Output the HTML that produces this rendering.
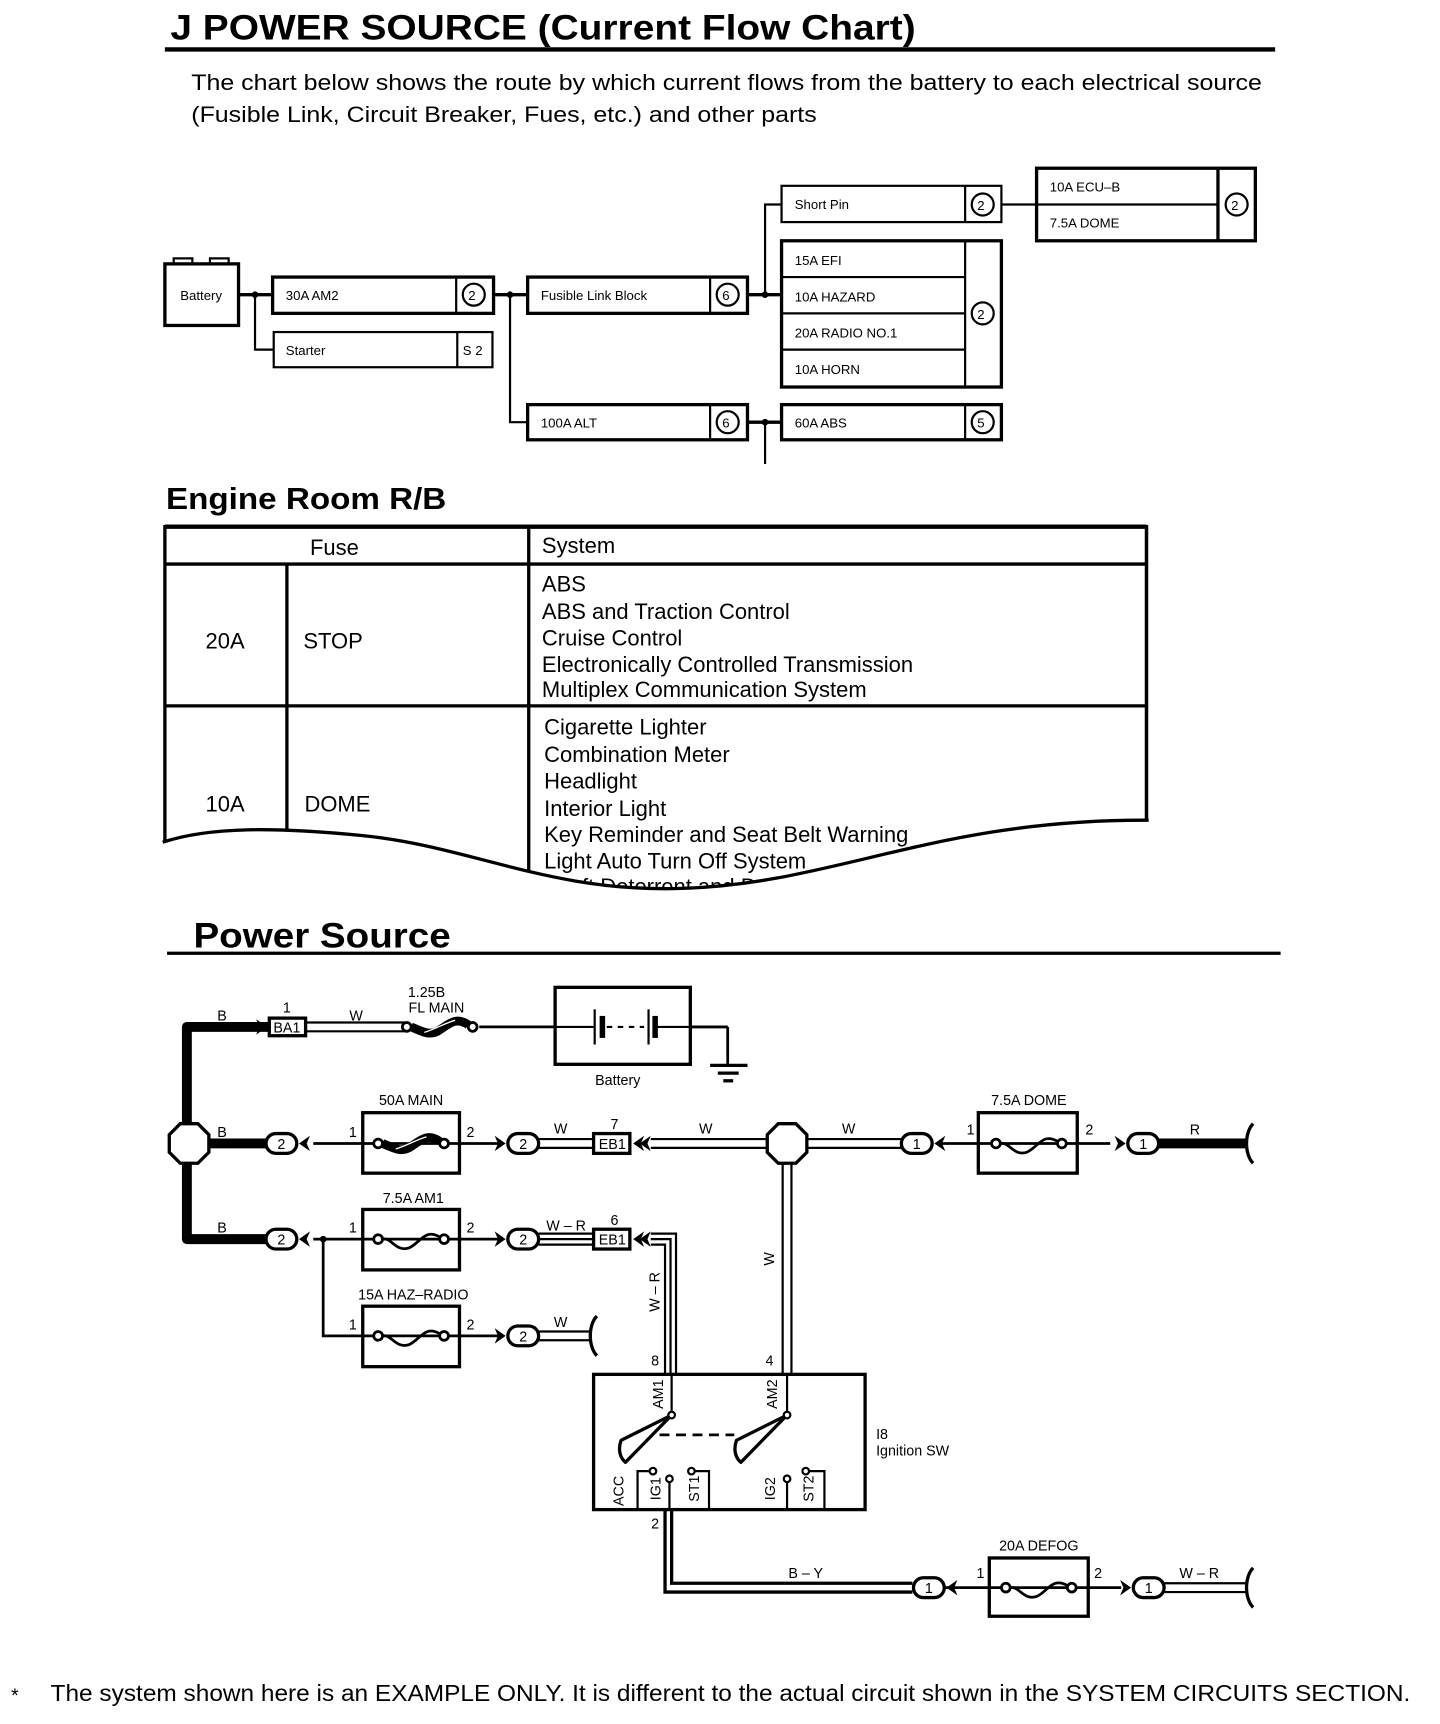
<!DOCTYPE html>
<html><head><meta charset="utf-8"><style>
html,body{margin:0;padding:0;background:#fff;}
svg{display:block;font-family:"Liberation Sans",sans-serif;}
</style></head><body>
<svg width="1440" height="1724" viewBox="0 0 1310 1568" preserveAspectRatio="none" xmlns="http://www.w3.org/2000/svg">
<defs>
<g id="fuse"><circle cx="-30" cy="0" r="4" fill="#fff" stroke="#000" stroke-width="2.5"/><circle cx="30" cy="0" r="4" fill="#fff" stroke="#000" stroke-width="2.5"/><path d="M-26 0 C-18 -2 -14 12 -2 8 C8 4 12 -10 26 -2" fill="none" stroke="#000" stroke-width="2.5"/></g>
<g id="fuseB"><circle cx="-30" cy="0" r="4" fill="#fff" stroke="#000" stroke-width="2.5"/><circle cx="30" cy="0" r="4" fill="#fff" stroke="#000" stroke-width="2.5"/><path d="M-26 0 C-16 4 -10 8 -2 4 C8 -2 14 -10 26 -2" fill="none" stroke="#000" stroke-width="8"/><path d="M-14 5 C-4 2 6 -4 14 -6" fill="none" stroke="#fff" stroke-width="1.2"/></g>
<g id="conn"><rect x="-14" y="-9" width="28" height="18" rx="9" fill="#fff" stroke="#000" stroke-width="3"/></g>
<path id="chL" d="M0 0 L10 -7 L7 0 L10 7 Z"/>
<path id="chR" d="M0 0 L-10 -7 L-7 0 L-10 7 Z"/>
</defs>
<line x1="150" y1="45" x2="1160" y2="45" stroke="#000" stroke-width="4"/>
<text x="155" y="36" font-size="32" font-weight="bold" textLength="678" lengthAdjust="spacingAndGlyphs">J POWER SOURCE (Current Flow Chart)</text>
<text x="174" y="82" font-size="20" textLength="974" lengthAdjust="spacingAndGlyphs">The chart below shows the route by which current flows from the battery to each electrical source</text>
<text x="174" y="111" font-size="20" textLength="569" lengthAdjust="spacingAndGlyphs">(Fusible Link, Circuit Breaker, Fues, etc.) and other parts</text>

<g fill="none" stroke="#000" stroke-width="2">
<rect x="150" y="240" width="67" height="56" stroke-width="3"/>
<rect x="158" y="235" width="17" height="5" stroke-width="2"/><rect x="191" y="235" width="17" height="5" stroke-width="2"/>
<line x1="217" y1="268" x2="248" y2="268" stroke-width="3"/>
<polyline points="232,268 232,318 249,318"/>
<rect x="248" y="252" width="201" height="33" stroke-width="3"/><line x1="415" y1="252" x2="415" y2="285"/>
<circle cx="431" cy="268" r="10"/>
<rect x="249" y="302" width="199" height="32"/><line x1="416" y1="302" x2="416" y2="334"/>
<line x1="449" y1="268" x2="480" y2="268" stroke-width="3"/>
<polyline points="464,268 464,384 480,384"/>
<rect x="480" y="252" width="200" height="33" stroke-width="3"/><line x1="646" y1="252" x2="646" y2="285"/>
<circle cx="662" cy="268" r="10"/>
<line x1="680" y1="268" x2="711" y2="268" stroke-width="3"/>
<polyline points="711,186 696,186 696,268"/>
<rect x="480" y="368" width="200" height="32" stroke-width="3"/><line x1="646" y1="368" x2="646" y2="400"/>
<circle cx="662" cy="384" r="10"/>
<line x1="680" y1="384" x2="711" y2="384" stroke-width="3"/>
<line x1="696" y1="384" x2="696" y2="422"/>
<rect x="711" y="169" width="200" height="33"/><line x1="878" y1="169" x2="878" y2="202"/>
<circle cx="894" cy="186" r="10"/>
<line x1="911" y1="186" x2="943" y2="186"/>
<rect x="943" y="153" width="199" height="66" stroke-width="3"/><line x1="943" y1="186" x2="1108" y2="186"/><line x1="1108" y1="153" x2="1108" y2="219" stroke-width="3"/>
<circle cx="1125" cy="186" r="10"/>
<rect x="711" y="219" width="200" height="133" stroke-width="3"/>
<line x1="711" y1="252" x2="878" y2="252"/><line x1="711" y1="285" x2="878" y2="285"/><line x1="711" y1="318" x2="878" y2="318"/>
<line x1="878" y1="219" x2="878" y2="352"/>
<circle cx="894" cy="285" r="10"/>
<rect x="711" y="368" width="200" height="32" stroke-width="3"/><line x1="878" y1="368" x2="878" y2="400"/>
<circle cx="894" cy="384" r="10"/>
</g>
<g fill="#000"><circle cx="232" cy="268" r="3"/><circle cx="464" cy="268" r="3"/><circle cx="696" cy="268" r="3"/><circle cx="696" cy="384" r="3"/></g>
<g font-size="12">
<text x="164" y="273">Battery</text>
<text x="260" y="273">30A AM2</text><text x="426" y="273">2</text>
<text x="260" y="323">Starter</text><text x="421" y="323">S 2</text>
<text x="492" y="273">Fusible Link Block</text><text x="657" y="273">6</text>
<text x="492" y="389">100A ALT</text><text x="657" y="389">6</text>
<text x="723" y="190">Short Pin</text><text x="889" y="191">2</text>
<text x="955" y="174">10A ECU–B</text><text x="955" y="207">7.5A DOME</text><text x="1120" y="191">2</text>
<text x="723" y="241">15A EFI</text><text x="723" y="274">10A HAZARD</text><text x="723" y="307">20A RADIO NO.1</text><text x="723" y="340">10A HORN</text><text x="889" y="290">2</text>
<text x="723" y="389">60A ABS</text><text x="889" y="389">5</text>
</g>

<text x="151" y="463" font-size="28" font-weight="bold" textLength="255" lengthAdjust="spacingAndGlyphs">Engine Room R/B</text>
<g fill="none" stroke="#000" stroke-width="3">
<rect x="150" y="479" width="893" height="330"/>
<line x1="150" y1="479" x2="1043" y2="479" stroke-width="4"/>
<line x1="150" y1="513" x2="1043" y2="513"/>
<line x1="150" y1="642" x2="1043" y2="642"/>
<line x1="481" y1="479" x2="481" y2="815"/>
<line x1="261" y1="513" x2="261" y2="815"/>
</g>
<g font-size="20">
<text x="282" y="505">Fuse</text><text x="493" y="503">System</text>
<text x="187" y="590">20A</text><text x="276" y="590">STOP</text>
<text x="493" y="538">ABS</text><text x="493" y="563">ABS and Traction Control</text><text x="493" y="587">Cruise Control</text><text x="493" y="611">Electronically Controlled Transmission</text><text x="493" y="634">Multiplex Communication System</text>
<text x="187" y="738">10A</text><text x="277" y="738">DOME</text>
<text x="495" y="668">Cigarette Lighter</text><text x="495" y="693">Combination Meter</text><text x="495" y="717">Headlight</text><text x="495" y="742">Interior Light</text><text x="495" y="766">Key Reminder and Seat Belt Warning</text><text x="495" y="790">Light Auto Turn Off System</text><text x="495" y="813">Theft Deterrent and Door Lock</text>
</g>
<path d="M146 766 C190 752 250 752 330 760 C430 770 500 812 620 808 C760 804 850 745 1047 746 L1047 830 L146 830 Z" fill="#fff"/>
<path d="M148 766 C190 752 250 752 330 760 C430 770 500 812 620 808 C760 804 850 745 1045 746" fill="none" stroke="#000" stroke-width="3"/>
<line x1="1043" y1="479" x2="1043" y2="747" stroke="#000" stroke-width="3"/>

<text x="176" y="862" font-size="32" font-weight="bold" textLength="234" lengthAdjust="spacingAndGlyphs">Power Source</text>
<line x1="152" y1="867" x2="1165" y2="867" stroke="#000" stroke-width="3"/>

<g fill="none" stroke="#000">
<polyline points="245,934 170,934 170,1127 245,1127" stroke-width="9" stroke-linejoin="round"/>
<line x1="170" y1="1040" x2="243" y2="1040" stroke-width="9"/>
<polygon points="164,1022 180,1022 190,1032 190,1048 180,1058 164,1058 154,1048 154,1032" fill="#fff" stroke-width="3"/>
<rect x="245" y="926" width="33" height="16" stroke-width="3" fill="#fff"/>
<line x1="278" y1="930" x2="368" y2="930" stroke-width="2"/><line x1="278" y1="938" x2="368" y2="938" stroke-width="2"/>
<use href="#fuseB" x="400" y="934"/>
<line x1="436" y1="934" x2="662" y2="934" stroke-width="2.5"/>
<rect x="505" y="898" width="123" height="70" stroke-width="3" fill="#fff"/>
<line x1="505" y1="934" x2="541" y2="934" stroke-width="2"/><line x1="597" y1="934" x2="628" y2="934" stroke-width="2"/>
<line x1="541" y1="918" x2="541" y2="950" stroke-width="2"/><line x1="548" y1="924" x2="548" y2="944" stroke-width="5"/>
<line x1="552" y1="934" x2="586" y2="934" stroke-width="2" stroke-dasharray="5,5"/>
<line x1="590" y1="918" x2="590" y2="950" stroke-width="2"/><line x1="596" y1="924" x2="596" y2="944" stroke-width="5"/>
<line x1="628" y1="934" x2="662" y2="934" stroke-width="2.5"/><line x1="662" y1="934" x2="662" y2="968" stroke-width="2.5"/>
<line x1="646" y1="969" x2="680" y2="969" stroke-width="3"/><line x1="653" y1="976" x2="672" y2="976" stroke-width="3"/><line x1="658" y1="983" x2="667" y2="983" stroke-width="3"/>
<line x1="285" y1="1040" x2="458" y2="1040" stroke-width="2.5"/>
<rect x="330" y="1012" width="88" height="55" stroke-width="3" fill="#fff"/>
<line x1="330" y1="1040" x2="418" y2="1040" stroke-width="2.5"/>
<use href="#fuseB" x="374" y="1040"/>
<line x1="490" y1="1036" x2="540" y2="1036" stroke-width="2"/><line x1="490" y1="1044" x2="540" y2="1044" stroke-width="2"/>
<rect x="540" y="1031" width="33" height="18" stroke-width="3" fill="#fff"/>
<line x1="592" y1="1036" x2="700" y2="1036" stroke-width="2"/><line x1="592" y1="1044" x2="700" y2="1044" stroke-width="2"/>
<line x1="732" y1="1036" x2="822" y2="1036" stroke-width="2"/><line x1="732" y1="1044" x2="822" y2="1044" stroke-width="2"/>
<line x1="712" y1="1058" x2="712" y2="1250" stroke-width="2"/><line x1="720" y1="1058" x2="720" y2="1250" stroke-width="2"/>
<polygon points="708,1022 724,1022 734,1032 734,1048 724,1058 708,1058 698,1048 698,1032" fill="#fff" stroke-width="3"/>
<line x1="855" y1="1040" x2="1010" y2="1040" stroke-width="2.5"/>
<rect x="890" y="1012" width="90" height="55" stroke-width="3" fill="#fff"/>
<line x1="890" y1="1040" x2="980" y2="1040" stroke-width="2.5"/>
<use href="#fuse" x="936" y="1040"/>
<line x1="1054" y1="1040" x2="1135" y2="1040" stroke-width="9"/>
<path d="M1140 1022 C1132 1030 1132 1050 1140 1058" stroke-width="3"/>
<line x1="285" y1="1127" x2="458" y2="1127" stroke-width="2.5"/>
<polyline points="294,1127 294,1215 330,1215" stroke-width="2.5"/>
<rect x="330" y="1100" width="88" height="55" stroke-width="3" fill="#fff"/>
<line x1="330" y1="1127" x2="418" y2="1127" stroke-width="2.5"/>
<use href="#fuse" x="374" y="1127"/>
<line x1="490" y1="1122" x2="540" y2="1122" stroke-width="2"/><line x1="490" y1="1127" x2="540" y2="1127" stroke-width="2"/><line x1="490" y1="1132" x2="540" y2="1132" stroke-width="2"/>
<rect x="540" y="1118" width="33" height="18" stroke-width="3" fill="#fff"/>
<polyline points="592,1122 615,1122 615,1250" stroke-width="2"/><polyline points="592,1127 610,1127 610,1250" stroke-width="2"/><polyline points="592,1132 605,1132 605,1250" stroke-width="2"/>
<line x1="418" y1="1215" x2="458" y2="1215" stroke-width="2.5"/>
<rect x="330" y="1188" width="88" height="55" stroke-width="3" fill="#fff"/>
<line x1="330" y1="1215" x2="418" y2="1215" stroke-width="2.5"/>
<use href="#fuse" x="374" y="1215"/>
<line x1="490" y1="1211" x2="537" y2="1211" stroke-width="2"/><line x1="490" y1="1219" x2="537" y2="1219" stroke-width="2"/>
<path d="M543 1197 C535 1205 535 1225 543 1233" stroke-width="3"/>
<rect x="540" y="1250" width="247" height="123" stroke-width="3"/>
<line x1="611" y1="1250" x2="611" y2="1287" stroke-width="2"/><line x1="716" y1="1250" x2="716" y2="1287" stroke-width="2"/>
<path d="M611 1287 L565 1310 C562 1318 564 1326 569 1330 Z" stroke-width="3" stroke-linejoin="round"/>
<path d="M716 1287 L670 1310 C667 1318 669 1326 674 1330 Z" stroke-width="3" stroke-linejoin="round"/>
<line x1="600" y1="1305" x2="668" y2="1305" stroke-width="2.5" stroke-dasharray="9,6"/>
<polyline points="580,1373 580,1338 594,1338" stroke-width="2"/>
<polyline points="629,1338 645,1338 645,1373" stroke-width="2"/>
<polyline points="733,1338 750,1338 750,1373" stroke-width="2"/>
<line x1="609" y1="1345" x2="609" y2="1373" stroke-width="2"/>
<line x1="716" y1="1345" x2="716" y2="1373" stroke-width="2"/>
<polyline points="605,1373 605,1448 830,1448" stroke-width="3"/><polyline points="611,1373 611,1440 830,1440" stroke-width="3"/>
<line x1="860" y1="1444" x2="1020" y2="1444" stroke-width="2.5"/>
<rect x="900" y="1417" width="90" height="53" stroke-width="3" fill="#fff"/>
<line x1="900" y1="1444" x2="990" y2="1444" stroke-width="2.5"/>
<use href="#fuse" x="945" y="1444"/>
<line x1="1058" y1="1440" x2="1135" y2="1440" stroke-width="2"/><line x1="1058" y1="1448" x2="1135" y2="1448" stroke-width="2"/>
<path d="M1140 1426 C1132 1434 1132 1454 1140 1462" stroke-width="3"/>
</g>
<g fill="#fff" stroke="#000" stroke-width="2">
<circle cx="611" cy="1287" r="3"/><circle cx="716" cy="1287" r="3"/>
<circle cx="594" cy="1338" r="3"/><circle cx="609" cy="1345" r="3"/><circle cx="629" cy="1338" r="3"/><circle cx="716" cy="1345" r="3"/><circle cx="733" cy="1338" r="3"/>
</g>
<circle cx="294" cy="1127" r="3"/>
<use href="#conn" x="256" y="1040"/><use href="#conn" x="256" y="1127"/>
<use href="#conn" x="476" y="1040"/><use href="#conn" x="476" y="1127"/><use href="#conn" x="476" y="1215"/>
<use href="#conn" x="834" y="1040"/><use href="#conn" x="1040" y="1040"/>
<use href="#conn" x="845" y="1444"/><use href="#conn" x="1045" y="1444"/>
<g fill="#000">
<use href="#chL" x="272" y="1040"/><use href="#chL" x="272" y="1127"/>
<use href="#chR" x="460" y="1040"/><use href="#chR" x="460" y="1127"/><use href="#chR" x="460" y="1215"/>
<use href="#chL" x="850" y="1040"/><use href="#chR" x="1024" y="1040"/>
<use href="#chL" x="861" y="1444"/><use href="#chR" x="1029" y="1444"/>
<use href="#chR" x="243" y="934"/>
<use href="#chL" x="576" y="1040"/><use href="#chL" x="582" y="1040"/>
<use href="#chL" x="576" y="1127"/><use href="#chL" x="582" y="1127"/>
</g>
<g font-size="13" text-anchor="middle">
<text x="256" y="1045">2</text><text x="256" y="1132">2</text>
<text x="476" y="1045">2</text><text x="476" y="1132">2</text><text x="476" y="1220">2</text>
<text x="834" y="1045">1</text><text x="1040" y="1045">1</text><text x="845" y="1449">1</text><text x="1045" y="1449">1</text>
<text x="261" y="939">BA1</text><text x="557" y="1045">EB1</text><text x="557" y="1132">EB1</text>
<text x="261" y="921">1</text><text x="559" y="1027">7</text><text x="559" y="1114">6</text>
<text x="202" y="928">B</text><text x="202" y="1034">B</text><text x="202" y="1121">B</text>
<text x="324" y="928">W</text><text x="388" y="907">1.25B</text><text x="397" y="921">FL MAIN</text>
<text x="562" y="987">Battery</text>
<text x="374" y="1005">50A MAIN</text><text x="321" y="1034">1</text><text x="428" y="1034">2</text>
<text x="510" y="1031">W</text><text x="642" y="1031">W</text><text x="772" y="1031">W</text>
<text x="936" y="1005">7.5A DOME</text><text x="883" y="1032">1</text><text x="991" y="1032">2</text><text x="1087" y="1032">R</text>
<text x="376" y="1094">7.5A AM1</text><text x="321" y="1121">1</text><text x="428" y="1121">2</text><text x="515" y="1119">W – R</text>
<text x="376" y="1182">15A HAZ–RADIO</text><text x="321" y="1209">1</text><text x="428" y="1209">2</text><text x="510" y="1207">W</text>
<text x="596" y="1242">8</text><text x="700" y="1242">4</text><text x="596" y="1390">2</text>
<text x="945" y="1410">20A DEFOG</text><text x="892" y="1435">1</text><text x="999" y="1435">2</text>
<text x="733" y="1435">B – Y</text><text x="1091" y="1435">W – R</text>
</g>
<g font-size="13" text-anchor="middle">
<text transform="translate(600,1175) rotate(-90)">W – R</text>
<text transform="translate(704,1145) rotate(-90)">W</text>
<text transform="translate(603,1268) rotate(-90)">AM1</text>
<text transform="translate(707,1268) rotate(-90)">AM2</text>
<text transform="translate(567,1356) rotate(-90)">ACC</text>
<text transform="translate(601,1354) rotate(-90)">IG1</text>
<text transform="translate(636,1354) rotate(-90)">ST1</text>
<text transform="translate(705,1354) rotate(-90)">IG2</text>
<text transform="translate(740,1354) rotate(-90)">ST2</text>
</g>
<text x="797" y="1309" font-size="13">I8</text><text x="797" y="1324" font-size="13">Ignition SW</text>
<text x="10" y="1548" font-size="18">*</text>
<text x="46" y="1547" font-size="21" textLength="1237" lengthAdjust="spacingAndGlyphs">The system shown here is an EXAMPLE ONLY. It is different to the actual circuit shown in the SYSTEM CIRCUITS SECTION.</text>
</svg>
</body></html>
